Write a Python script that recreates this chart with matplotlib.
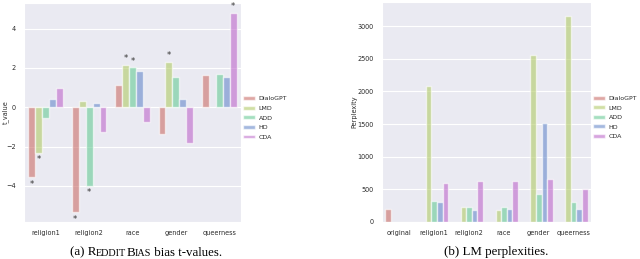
import numpy as np
import matplotlib
matplotlib.use('Agg')
import matplotlib.pyplot as plt
import seaborn as sns

# t-values per bias dimension (left panel)
t_cats = ['religion1', 'religion2', 'race', 'gender', 'queerness']
models = ['DialoGPT', 'LMD', 'ADD', 'HD', 'CDA']
t_dialogpt = [-3.56, -5.33, 1.12, -1.36, 1.63]
t_lmd = [-2.31, 0.29, 2.16, 2.31, np.nan]
t_add = [-0.53, -4.00, 2.03, 1.53, 1.69]
t_hd = [0.43, 0.20, 1.82, 0.43, 1.55]
t_cda = [0.97, -1.24, -0.73, -1.80, 4.80]
# significance markers
sig_dialogpt = [True, True, False, False, False]
sig_lmd = [True, False, True, True, False]
sig_add = [False, True, True, False, False]
sig_hd = [False, False, False, False, False]
sig_cda = [False, False, False, False, True]

# perplexities (right panel)
p_cats = ['original', 'religion1', 'religion2', 'race', 'gender', 'queerness']
p_dialogpt = [195, np.nan, np.nan, np.nan, np.nan, np.nan]
p_lmd = [np.nan, 2080, 235, 180, 2560, 3150]
p_add = [np.nan, 320, 225, 230, 435, 305]
p_hd = [np.nan, 305, 185, 195, 1510, 200]
p_cda = [np.nan, 590, 625, 625, 660, 500]

sns.set_style('darkgrid')
plt.rcParams['font.family'] = ['DejaVu Sans']
colors = [sns.desaturate(c, 0.75) for c in sns.color_palette('hls', 5)]
fs = 4.7

fig = plt.figure(figsize=(6.4, 2.59), dpi=100)
ax1 = fig.add_axes([24/640, 37/259, 217/640, 219/259])
ax2 = fig.add_axes([382/640, 37/259, 209/640, 220/259])


def bars(ax, cats, series, sigs=None):
	x = np.arange(len(cats))
	w = 0.8/len(series)
	for i, vals in enumerate(series):
		vals = np.array(vals, dtype=float)
		pos = x + (i - (len(series)-1)/2)*w
		ax.bar(pos, vals, width=w, color=colors[i], alpha=0.6,
			edgecolor='white', linewidth=1.0, label=models[i])
		if sigs is not None:
			for p, v, s in zip(pos, vals, sigs[i]):
				if s:
					off = 0.3 if v > 0 else -0.36
					ax.text(p, v+off, '*', ha='center', va='center',
						fontsize=6, color='#333333')
	ax.set_xticks(x)
	ax.set_xticklabels(cats)
	ax.set_xlim(-0.5, len(cats)-0.5)
	ax.xaxis.grid(False)
	ax.tick_params(labelsize=fs, pad=2.5, colors='#2a2a2a')
	ax.legend(loc='center left', bbox_to_anchor=(1.0, 0.475), frameon=False,
		fontsize=4.5, handlelength=2.0, handleheight=0.6, labelspacing=0.7,
		borderaxespad=0.0, borderpad=0.3, handletextpad=0.5)


bars(ax1, t_cats, [t_dialogpt, t_lmd, t_add, t_hd, t_cda],
	[sig_dialogpt, sig_lmd, sig_add, sig_hd, sig_cda])
ax1.set_ylim(-5.84, 5.3)
ax1.set_yticks([-4, -2, 0, 2, 4])
ax1.set_ylabel('t_value', fontsize=fs, va='center', color='#2a2a2a')
ax1.yaxis.set_label_coords(-0.085, 0.5)

bars(ax2, p_cats, [p_dialogpt, p_lmd, p_add, p_hd, p_cda])
ax2.set_ylim(0, 3370)
ax2.set_yticks([0, 500, 1000, 1500, 2000, 2500, 3000])
ax2.set_ylabel('Perplexity', fontsize=fs, va='center', color='#2a2a2a')
ax2.yaxis.set_label_coords(-0.13, 0.5)

# captions with fake small caps, centred under each panel
fig.canvas.draw()
renderer = fig.canvas.get_renderer()


def caption(xc_px, y_px, pieces):
	texts = [fig.text(0, y_px/259, txt, fontsize=size, family='Liberation Serif',
		va='baseline', ha='left', color='black') for txt, size in pieces]
	widths = [t.get_window_extent(renderer).width for t in texts]
	x = xc_px - sum(widths)/2
	for t, wd in zip(texts, widths):
		t.set_x(x/640)
		x += wd


cs = 9.3
caption(146, 259-255.5, [('(a) R', cs), ('EDDIT', cs*0.78), ('B', cs), ('IAS', cs*0.78),
	(' bias t-values.', cs)])
caption(496, 259-255.5, [('(b) LM perplexities.', cs)])

fig.savefig('out.png', dpi=100)
